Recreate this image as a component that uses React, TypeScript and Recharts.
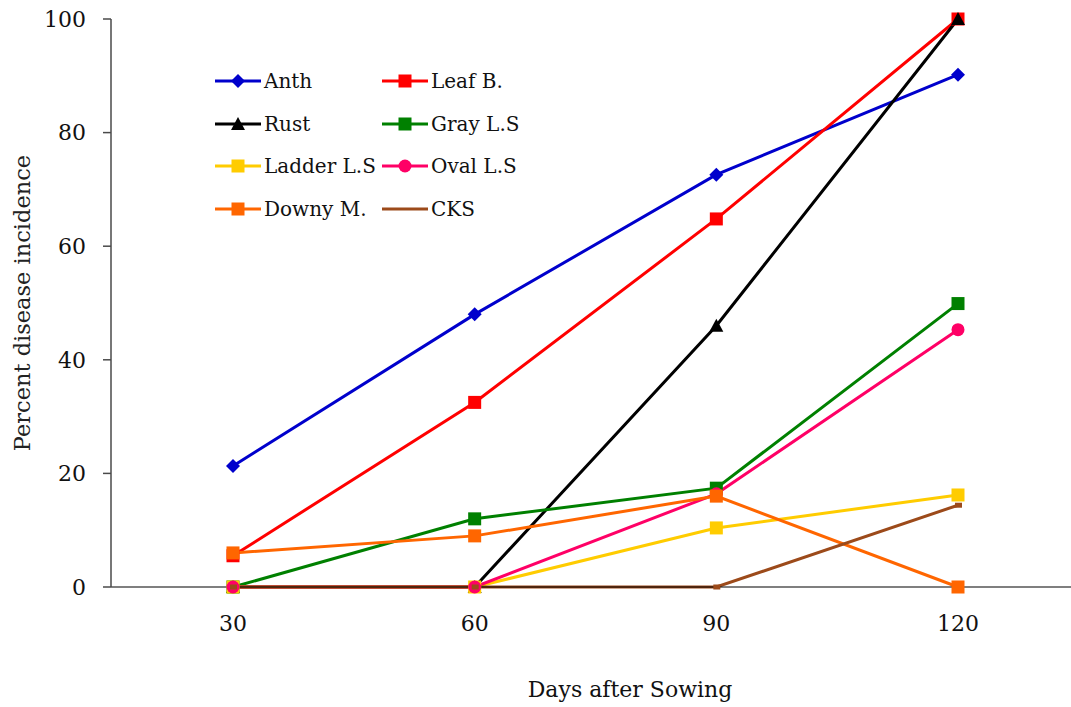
import React from "react";
import { LineChart, Line, XAxis, YAxis, Legend } from "recharts";

// Days after sowing (x categories)
const days = [30, 60, 90, 120];

// Percent disease incidence per disease
const anth = [21.3, 48.0, 72.6, 90.2];
const leafB = [5.5, 32.5, 64.8, 100];
const rust = [0, 0, 46.0, 100];
const grayLS = [0, 12.0, 17.4, 49.9];
const ladderLS = [0, 0, 10.4, 16.2];
const ovalLS = [0, 0, 16.4, 45.3];
const downyM = [6.0, 9.0, 16.0, 0];
const cks = [0, 0, 0, 14.4];

const yTicks = [0, 20, 40, 60, 80, 100];

type Shape = "diamond" | "square" | "triangle" | "circle" | "tiny" | "none";

const SERIES: { name: string; values: number[]; color: string; shape: Shape }[] = [
  { name: "Anth", values: anth, color: "#0000CC", shape: "diamond" },
  { name: "Leaf B.", values: leafB, color: "#FF0000", shape: "square" },
  { name: "Rust", values: rust, color: "#000000", shape: "triangle" },
  { name: "Gray L.S", values: grayLS, color: "#008000", shape: "square" },
  { name: "Ladder L.S", values: ladderLS, color: "#FFCC00", shape: "square" },
  { name: "Oval L.S", values: ovalLS, color: "#FF0066", shape: "circle" },
  { name: "Downy M.", values: downyM, color: "#FF6600", shape: "square" },
  { name: "CKS", values: cks, color: "#9C4A1A", shape: "tiny" },
];

const data = days.map((d, i) => {
  const row: Record<string, number> = { day: d };
  for (const s of SERIES) row[s.name] = s.values[i];
  return row;
});

const FONT = "'DejaVu Serif', serif";
const AXIS_GRAY = "#4a4a4a";

function Marker({ cx, cy, shape, color, legend }: { cx: number; cy: number; shape: Shape; color: string; legend?: boolean }) {
  if (cx == null || cy == null) return null;
  switch (shape) {
    case "diamond":
      return <polygon points={`${cx},${cy - 7} ${cx + 7},${cy} ${cx},${cy + 7} ${cx - 7},${cy}`} fill={color} />;
    case "square":
      return <rect x={cx - 6.5} y={cy - 6.5} width={13} height={13} fill={color} />;
    case "triangle":
      return <polygon points={`${cx},${cy - 7} ${cx + 7},${cy + 6} ${cx - 7},${cy + 6}`} fill={color} />;
    case "circle":
      return <circle cx={cx} cy={cy} r={6.5} fill={color} />;
    case "tiny":
      return legend ? null : <rect x={cx - 3} y={cy - 2.5} width={7} height={5} fill={color} />;
    default:
      return null;
  }
}

function renderLegend() {
  return (
    <div style={{ display: "grid", gridTemplateColumns: "167px 167px", rowGap: 0 }}>
      {SERIES.map((s) => (
        <div key={s.name} style={{ display: "flex", alignItems: "center", height: 42.5 }}>
          <svg width={50} height={20} style={{ display: "block" }}>
            <line x1={1} y1={10} x2={47} y2={10} stroke={s.color} strokeWidth={3} />
            <Marker cx={24} cy={10} shape={s.shape} color={s.color} legend />
          </svg>
          <span style={{ fontFamily: FONT, fontSize: 20, color: "#111", whiteSpace: "nowrap" }}>{s.name}</span>
        </div>
      ))}
    </div>
  );
}

export default function App() {
  return (
    <div style={{ position: "absolute", left: 0, top: 0, width: 1071, height: 707, overflow: "hidden", background: "#fff" }}>
      <LineChart width={1080} height={707} data={data} margin={{ top: 19, right: 1, left: 11, bottom: 60 }}>
        <XAxis
          dataKey="day"
          type="category"
          padding={{ left: 122, right: 121 }}
          height={60}
          tickLine={false}
          tickSize={0}
          tickMargin={28}
          axisLine={{ stroke: "#000", strokeWidth: 1.2 }}
          tick={{ fill: "#111", fontSize: 22, fontFamily: FONT }}
          label={{ value: "Days after Sowing", position: "center", dx: 35, dy: 72, fill: "#111", fontSize: 22, fontFamily: FONT }}
        />
        <YAxis
          domain={[0, 100]}
          ticks={yTicks}
          width={100}
          tickSize={8}
          tickMargin={17}
          tickLine={{ stroke: AXIS_GRAY, strokeWidth: 1.5 }}
          axisLine={{ stroke: AXIS_GRAY, strokeWidth: 1.5 }}
          tick={{ fill: "#111", fontSize: 22, fontFamily: FONT }}
          label={{ value: "Percent disease incidence", angle: -90, position: "center", dx: -39, fill: "#222", fontSize: 22.5, fontFamily: FONT }}
        />
        <Legend
          layout="horizontal"
          verticalAlign="middle"
          align="center"
          content={renderLegend}
          wrapperStyle={{ left: 214, top: 60, width: 340 }}
        />
        {SERIES.map((s) => (
          <Line
            key={s.name}
            dataKey={s.name}
            name={s.name}
            type="linear"
            stroke={s.color}
            strokeWidth={3}
            isAnimationActive={false}
            activeDot={false}
            dot={(p: any) => (
              <Marker key={`${s.name}-${p.index}`} cx={p.cx} cy={p.cy} shape={s.shape} color={s.color} />
            )}
          />
        ))}
      </LineChart>
    </div>
  );
}
